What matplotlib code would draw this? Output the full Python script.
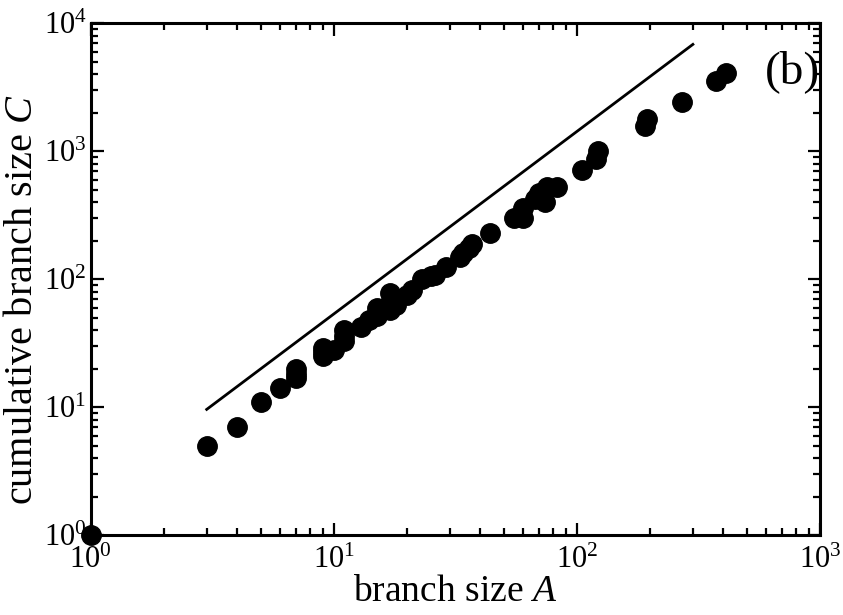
import matplotlib
matplotlib.use("Agg")
import matplotlib.pyplot as plt
from matplotlib.ticker import LogLocator

# branch size A and cumulative branch size C
A = [1, 3, 4, 5, 6, 7, 7, 7, 9, 9, 9, 10, 11, 11, 11, 13, 14, 15, 15, 17, 17, 17,
     18, 20, 21, 23, 25, 26, 29, 33, 34, 36, 37, 44, 55, 60, 60, 67, 70, 74, 75,
     83, 105, 120, 122, 190, 195, 270, 375, 410]
C = [1, 5, 7, 11, 14, 17, 18, 20, 25, 27, 29, 28, 33, 36, 40, 42, 48, 52, 60, 57,
     65, 78, 63, 75, 82, 100, 105, 108, 125, 150, 160, 175, 190, 228, 300, 300,
     360, 420, 470, 400, 530, 530, 710, 870, 1000, 1580, 1780, 2450, 3550, 4100]

# guide line (power law) end points
line_A = [3, 300]
line_C = [9.6, 6850]

x_label = "branch size $\\it{A}$"
y_label = "cumulative branch size $\\it{C}$"
panel = "(b)"

plt.rcParams['font.family'] = ['Liberation Serif', 'DejaVu Serif']
plt.rcParams['mathtext.fontset'] = 'custom'
plt.rcParams['mathtext.rm'] = 'Liberation Serif'
plt.rcParams['mathtext.it'] = 'Liberation Serif:italic'

fig = plt.figure(figsize=(8.43, 6.15), dpi=100)
ax = fig.add_axes([0.1076, 0.130, 0.8651, 0.832])

ax.plot(line_A, line_C, color='black', lw=2.0)
ax.plot(A, C, 'o', color='black', ms=14, clip_on=False, zorder=5)

ax.set_xscale('log')
ax.set_yscale('log')
ax.set_xlim(1, 1000)
ax.set_ylim(1, 10000)
ax.xaxis.set_major_locator(LogLocator(base=10, numticks=10))
ax.yaxis.set_major_locator(LogLocator(base=10, numticks=10))
ax.xaxis.set_minor_locator(LogLocator(base=10, subs=range(2, 10), numticks=20))
ax.yaxis.set_minor_locator(LogLocator(base=10, subs=range(2, 10), numticks=20))

ax.tick_params(which='both', direction='in', top=True, right=True, width=1.6,
               labelsize=22, colors='black')
ax.tick_params(which='major', length=9)
ax.tick_params(which='minor', length=5)
ax.tick_params(axis='x', which='major', pad=8)
ax.tick_params(axis='y', which='major', pad=3)
for s in ax.spines.values():
    s.set_linewidth(2.2)

ax.set_xlabel(x_label, fontsize=27)
ax.set_ylabel(y_label, fontsize=29)
ax.xaxis.set_label_coords(0.5, -0.078)
ax.yaxis.set_label_coords(-0.068, 0.46)
ax.text(0.962, 0.905, panel, transform=ax.transAxes, fontsize=34,
        ha='center', va='center')

fig.savefig("out.png", dpi=100)
